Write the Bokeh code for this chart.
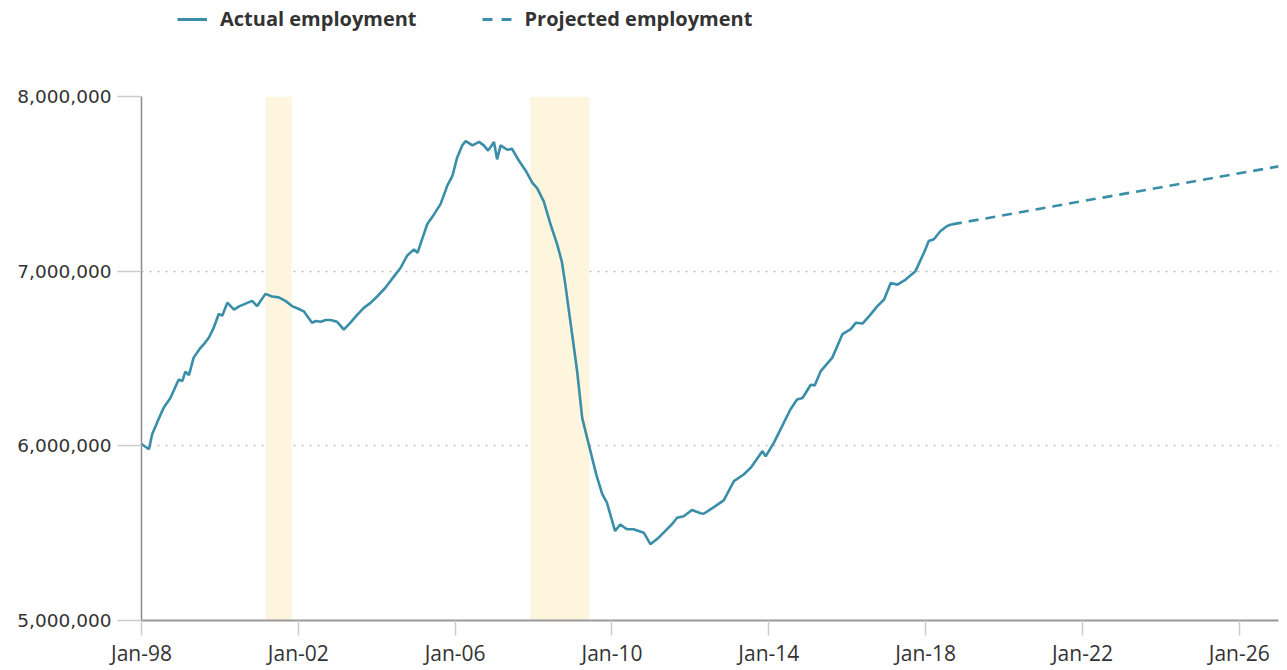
from bokeh.plotting import figure
from bokeh.layouts import column
from bokeh.models import (Range1d, FixedTicker, NumeralTickFormatter, Legend,
                          LegendItem, ColumnDataSource)
from bokeh.embed import file_html
from bokeh.resources import INLINE

# ---- data (fractional years, employment in thousands) ----
actual_year = [
    1998.00, 1998.10, 1998.19, 1998.27, 1998.42, 1998.57, 1998.74, 1998.90, 1998.95,
    1999.04, 1999.12, 1999.21, 1999.33, 1999.50, 1999.62, 1999.72, 1999.84, 1999.97,
    2000.06, 2000.19, 2000.36, 2000.50, 2000.61, 2000.82, 2000.95,
    2001.16, 2001.33, 2001.50, 2001.67, 2001.84,
    2002.00, 2002.14, 2002.35, 2002.45, 2002.57, 2002.70, 2002.82, 2002.99,
    2003.16, 2003.33, 2003.50, 2003.67, 2003.85,
    2004.01, 2004.22, 2004.44, 2004.61, 2004.78, 2004.95,
    2005.04, 2005.16, 2005.29, 2005.46, 2005.63, 2005.80, 2005.93,
    2006.05, 2006.18, 2006.27, 2006.44, 2006.61, 2006.73, 2006.84, 2006.99,
    2007.07, 2007.16, 2007.33, 2007.45, 2007.62, 2007.80, 2007.97,
    2008.09, 2008.26, 2008.43, 2008.60, 2008.72, 2008.80, 2008.94,
    2009.11, 2009.24, 2009.45, 2009.60, 2009.75, 2009.87,
    2010.08, 2010.21, 2010.38, 2010.55, 2010.68, 2010.81, 2010.98,
    2011.19, 2011.40, 2011.54, 2011.66, 2011.83,
    2012.04, 2012.26, 2012.34, 2012.59, 2012.85,
    2013.11, 2013.36, 2013.54, 2013.84, 2013.92,
    2014.13, 2014.34, 2014.55, 2014.72, 2014.86,
    2015.07, 2015.17, 2015.32, 2015.62, 2015.88,
    2016.09, 2016.22, 2016.39, 2016.56, 2016.77, 2016.94,
    2017.11, 2017.28, 2017.49, 2017.74, 2017.96,
    2018.08, 2018.21, 2018.38, 2018.55, 2018.67,
]
actual_k = [
    6010, 5995, 5980, 6065, 6145, 6220, 6275, 6355, 6380,
    6370, 6425, 6405, 6505, 6560, 6590, 6620, 6675, 6755,
    6745, 6820, 6780, 6800, 6810, 6830, 6800,
    6870, 6855, 6850, 6830, 6800,
    6785, 6770, 6705, 6715, 6710, 6720, 6720, 6710,
    6665, 6705, 6750, 6790, 6820,
    6855, 6905, 6970, 7020, 7090, 7125,
    7105, 7185, 7270, 7325, 7385, 7490, 7545,
    7650, 7720, 7745, 7720, 7740, 7720, 7690, 7740,
    7640, 7720, 7695, 7700, 7635, 7575, 7505,
    7475, 7400, 7270, 7155, 7055, 6940, 6710,
    6430, 6160, 5970, 5835, 5725, 5675,
    5512, 5550, 5522, 5522, 5512, 5503, 5437,
    5474, 5522, 5554, 5588, 5597,
    5633, 5614, 5611, 5648, 5688,
    5798, 5836, 5875, 5970, 5940,
    6018, 6113, 6208, 6265, 6274,
    6350, 6346, 6426, 6505, 6640,
    6668, 6705, 6700, 6743, 6800, 6838,
    6932, 6923, 6952, 7000, 7107,
    7173, 7183, 7230, 7259, 7268,
]
projected_year = [2018.67, 2027.0]
projected_k = [7268, 7600]

recession_start = [2001.17, 2007.92]
recession_end = [2001.83, 2009.42]

tick_years = [1998, 2002, 2006, 2010, 2014, 2018, 2022, 2026]
tick_labels = ["Jan-98", "Jan-02", "Jan-06", "Jan-10", "Jan-14", "Jan-18", "Jan-22", "Jan-26"]
y_ticks = [5000000, 6000000, 7000000, 8000000]

LINE = "#3a8ea8"
LW = 2.6
DASH = "10 7"

# ---- legend strip ----
leg = figure(width=1283, height=40, output_backend="svg", toolbar_location=None,
             x_range=Range1d(0, 1), y_range=Range1d(0, 1),
             min_border_left=0, min_border_right=0, min_border_top=0,
             min_border_bottom=0)
leg.axis.visible = False
leg.grid.visible = False
leg.outline_line_color = None
# legend swatches only: points placed outside the visible range
swatch = ColumnDataSource(dict(x=[-2, -1], y=[-2, -2]))
l_act = leg.line("x", "y", source=swatch, line_color=LINE, line_width=3)
l_proj = leg.line("x", "y", source=swatch, line_color=LINE, line_width=3,
                  line_dash="10 9")
legend = Legend(items=[LegendItem(label="Actual employment", renderers=[l_act]),
                       LegendItem(label="Projected employment", renderers=[l_proj])],
                orientation="horizontal", location=(36, 8),
                glyph_width=30, glyph_height=20, label_standoff=13, spacing=65,
                padding=0, margin=0, border_line_alpha=0, background_fill_alpha=0,
                label_text_font="Open Sans", label_text_font_style="bold",
                label_text_font_size="20px", label_text_color="#333333")
leg.add_layout(legend, "center")

# ---- main chart ----
p = figure(width=1283, height=630, output_backend="svg", toolbar_location=None,
           x_range=Range1d(1998, 2027), y_range=Range1d(5000000, 8000000),
           min_border_left=141, min_border_top=56, min_border_right=5,
           min_border_bottom=50)
p.outline_line_color = None

rec = ColumnDataSource(dict(left=recession_start, right=recession_end,
                            bottom=[5000000] * len(recession_start),
                            top=[8000000] * len(recession_start)))
p.quad(left="left", right="right", bottom="bottom", top="top", source=rec,
       fill_color="#fef5df", line_color=None)

act = ColumnDataSource(dict(x=actual_year, y=[v * 1000 for v in actual_k]))
proj = ColumnDataSource(dict(x=projected_year, y=[v * 1000 for v in projected_k]))
p.line("x", "y", source=act, line_color=LINE, line_width=LW)
p.line("x", "y", source=proj, line_color=LINE, line_width=LW, line_dash=DASH)

p.xgrid.grid_line_color = None
p.ygrid.ticker = FixedTicker(ticks=y_ticks)
p.ygrid.grid_line_color = "#bdbdbd"
p.ygrid.grid_line_dash = "2 6"
p.ygrid.grid_line_width = 1.5

ya = p.yaxis[0]
ya.ticker = FixedTicker(ticks=y_ticks)
ya.formatter = NumeralTickFormatter(format="0,0")
ya.major_tick_out = 24
ya.major_tick_in = 0
ya.minor_tick_out = 0
ya.minor_tick_in = 0
ya.major_tick_line_color = "#cccccc"
ya.major_tick_line_width = 1.5
ya.axis_line_color = "#8a8a8a"
ya.axis_line_width = 1.5
ya.major_label_text_font = "DejaVu Sans"
ya.major_label_text_font_size = "18.5px"
ya.major_label_text_color = "#333333"
ya.major_label_standoff = 6

xa = p.xaxis[0]
xa.ticker = FixedTicker(ticks=tick_years)
xa.major_label_overrides = {t: l for t, l in zip(tick_years, tick_labels)}
xa.major_tick_out = 15
xa.major_tick_in = 0
xa.minor_tick_out = 0
xa.minor_tick_in = 0
xa.major_tick_line_color = "#cccccc"
xa.major_tick_line_width = 1.5
xa.axis_line_color = "#999999"
xa.axis_line_width = 2
xa.major_label_text_font = "Open Sans"
xa.major_label_text_font_size = "21px"
xa.major_label_text_color = "#333333"
xa.major_label_standoff = 3

layout = column(leg, p, spacing=0)
open("out.html", "w").write(file_html(layout, INLINE))
